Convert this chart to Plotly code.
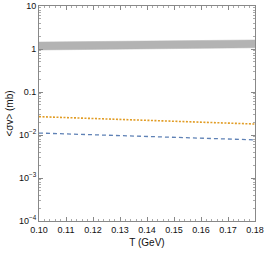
import plotly.graph_objects as go

T = [0.10, 0.12, 0.14, 0.16, 0.18]
band_upper = [1.45, 1.49, 1.53, 1.58, 1.62]
band_lower = [0.95, 0.98, 1.01, 1.04, 1.07]
orange_vals = [0.0267, 0.0240, 0.0218, 0.0198, 0.0180]
blue_vals = [0.0111, 0.0101, 0.0092, 0.0084, 0.0077]

x_ticks = [0.10, 0.11, 0.12, 0.13, 0.14, 0.15, 0.16, 0.17, 0.18]
x_ticklabels = ["0.10", "0.11", "0.12", "0.13", "0.14", "0.15", "0.16", "0.17", "0.18"]
y_ticks = [1e-4, 1e-3, 1e-2, 0.1, 1, 10]
y_ticklabels = ["10<sup>−4</sup>", "10<sup>−3</sup>", "10<sup>−2</sup>", "0.1", "1", "10"]

FONT = "Liberation Sans, Arial, sans-serif"

fig = go.Figure()
fig.add_trace(go.Scatter(x=T, y=band_lower, mode="lines", line=dict(color="#b3b3b3", width=0.5),
                         showlegend=False, hoverinfo="skip"))
fig.add_trace(go.Scatter(x=T, y=band_upper, mode="lines", line=dict(color="#b3b3b3", width=0.5),
                         fill="tonexty", fillcolor="#b3b3b3", showlegend=False))
fig.add_trace(go.Scatter(x=T, y=orange_vals, mode="lines",
                         line=dict(color="#E19C24", width=1.6, dash="2px,1.5px"), showlegend=False))
fig.add_trace(go.Scatter(x=T, y=blue_vals, mode="lines",
                         line=dict(color="#5E81B5", width=1.3, dash="4px,3px"), showlegend=False))

axis_common = dict(showline=True, linecolor="#888888", linewidth=1, mirror="ticks",
                   ticks="inside", ticklen=4, tickcolor="#888888", showgrid=False, zeroline=False,
                   tickfont=dict(family=FONT, size=9, color="#111111"))

fig.update_xaxes(range=[0.10, 0.18], tickvals=x_ticks, ticktext=x_ticklabels,
                 title=dict(text="T (GeV)", font=dict(family=FONT, size=10, color="#111111"), standoff=5),
                 minor=dict(ticks="inside", ticklen=2, tickcolor="#aaaaaa", dtick=0.002),
                 **axis_common)
fig.update_yaxes(type="log", range=[-4, 1], tickvals=y_ticks, ticktext=y_ticklabels,
                 title=dict(text="&lt;σv&gt; (mb)", font=dict(family=FONT, size=10, color="#111111"), standoff=3),
                 minor=dict(ticks="inside", ticklen=2, tickcolor="#aaaaaa", dtick="D1"),
                 **axis_common)

fig.update_layout(width=266, height=253, margin=dict(l=39, r=11, t=6, b=32, autoexpand=False),
                  plot_bgcolor="white", paper_bgcolor="white")
fig.write_html("out.html", config={"displayModeBar": False},
               post_script="document.body.style.margin='0';")
